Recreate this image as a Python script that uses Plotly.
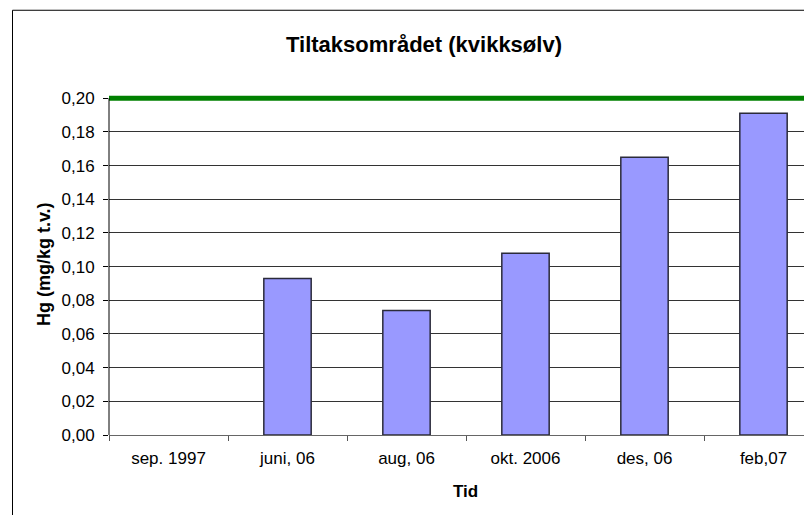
import plotly.graph_objects as go

categories = ["sep. 1997", "juni, 06", "aug, 06", "okt. 2006", "des, 06", "feb,07"]
hg_values = [None, 0.093, 0.074, 0.108, 0.165, 0.191]
limit_value = 0.20

title_text = "Tiltaksområdet (kvikksølv)"
y_title = "Hg (mg/kg t.v.)"
x_title = "Tid"

# The page body has an 8px margin, so layout pixels = window pixels - 8
OFF = 8
W, H = 812, 515
left = 109 - OFF            # plot left edge (layout px)
y0_px = 435.5 - OFF         # pixel of y = 0
y20_px = 98.5 - OFF         # pixel of y = 0.20
y_top = 0.2025
px_per_unit = (y0_px - y20_px) / 0.20
top_px = y0_px - y_top * px_per_unit
plot_w = W - left
plot_h = y0_px - top_px
cat_w = 119.0
x_end = -0.5 + plot_w / cat_w

FONT = "Arial, Liberation Sans, sans-serif"

fig = go.Figure()
fig.add_trace(go.Bar(
    x=categories, y=hg_values, width=0.398,
    marker=dict(color="#9999FF", line=dict(color="#2b2b3a", width=1.5)),
    showlegend=False, hoverinfo="skip",
))

# limit line
fig.add_shape(type="line", xref="paper", x0=0, x1=1, yref="y", y0=limit_value, y1=limit_value,
              line=dict(color="#008000", width=5), layer="above")
# y axis line
fig.add_shape(type="line", xref="paper", x0=0, x1=0, yref="y", y0=0, y1=limit_value,
              line=dict(color="black", width=1), layer="above")
# outer chart frame
fig.add_shape(type="rect", xref="paper", yref="paper",
              x0=(12.5 - OFF - left) / plot_w, x1=1.3,
              y0=-0.5, y1=(y0_px - (10.5 - OFF)) / plot_h,
              line=dict(color="black", width=1), fillcolor="rgba(0,0,0,0)", layer="below")

fig.update_layout(
    width=W, height=H,
    margin=dict(l=left, r=0, t=top_px, b=H - y0_px, pad=0),
    paper_bgcolor="white", plot_bgcolor="white",
    separators=", ",
    font=dict(family=FONT, size=17, color="black"),
    title=dict(text="<b>" + title_text + "</b>", x=(424 - OFF) / W, xanchor="center", xref="container",
               y=1 - (44 - OFF) / H, yanchor="middle", yref="container",
               font=dict(family=FONT, size=22, color="black")),
    showlegend=False,
)
fig.update_xaxes(
    type="category", range=[-0.5, x_end], tickson="boundaries",
    ticks="outside", ticklen=5, tickcolor="#555", tickwidth=1,
    showline=True, linecolor="#666", linewidth=1, showgrid=False, zeroline=False,
    tickfont=dict(family=FONT, size=17, color="black"), ticklabelstandoff=8,
    fixedrange=True,
)
fig.update_yaxes(
    range=[0, y_top], dtick=0.02, tick0=0, tickformat=".2f",
    ticks="outside", ticklen=5, tickcolor="black", tickwidth=1,
    showline=False, showgrid=True, gridcolor="#333", gridwidth=1, zeroline=False,
    tickfont=dict(family=FONT, size=17, color="black"), ticklabelstandoff=5,
    fixedrange=True,
)

fig.add_annotation(text="<b>" + y_title + "</b>", xref="paper", yref="paper",
                   x=0, y=(y0_px - (265 - OFF)) / plot_h, xshift=-(left - (43.5 - OFF)),
                   xanchor="center", yanchor="middle", textangle=-90, showarrow=False,
                   font=dict(family=FONT, size=18, color="black"))
fig.add_annotation(text="<b>" + x_title + "</b>", xref="paper", yref="paper",
                   x=((465.5 - OFF) - left) / plot_w, y=0, yshift=-((491.5 - OFF) - y0_px),
                   xanchor="center", yanchor="middle", showarrow=False,
                   font=dict(family=FONT, size=17, color="black"))

fig.write_html("out.html")
